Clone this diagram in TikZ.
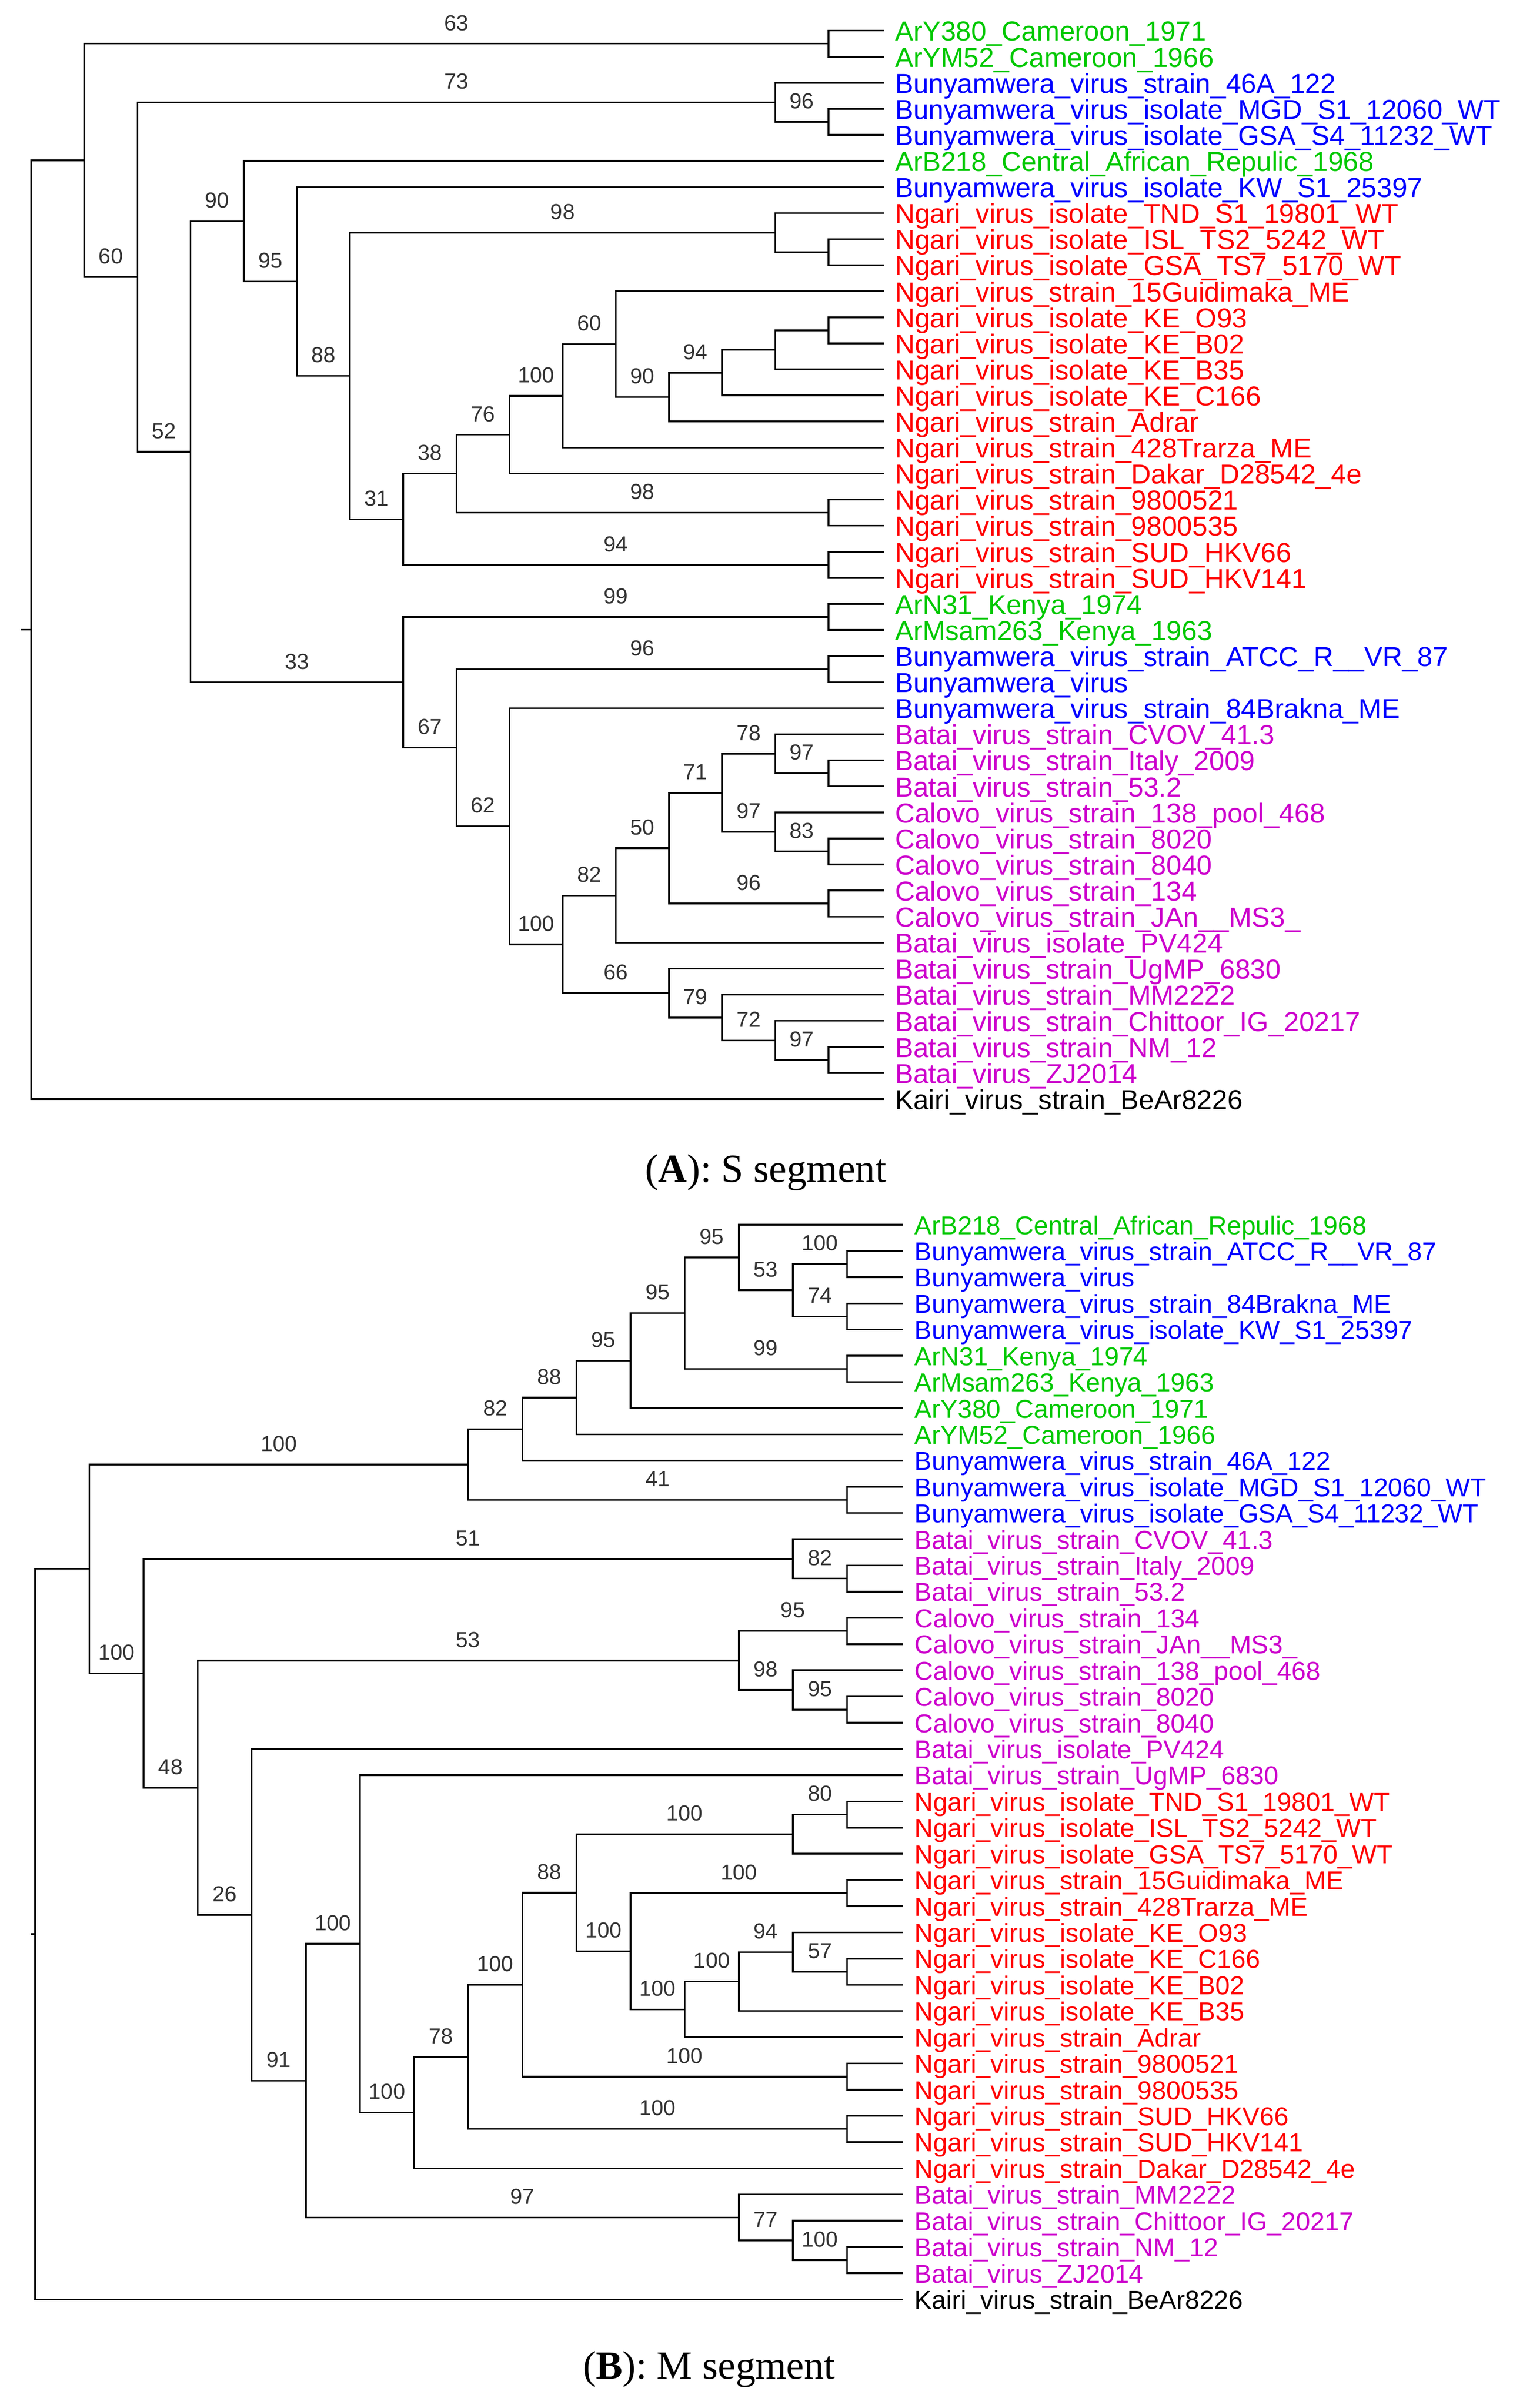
\documentclass[tikz,border=0pt]{standalone}
\usepackage{fontspec}
\setmainfont{Liberation Serif}
\setsansfont{Liberation Sans}
\usetikzlibrary{calc}
\definecolor{grn}{RGB}{0,200,0}
\definecolor{blu}{RGB}{0,0,255}
\definecolor{rd}{RGB}{255,0,0}
\definecolor{mag}{RGB}{204,0,204}
\tikzset{
  branch/.style={line width=1.1pt, line join=miter, line cap=rect},
  bslab/.style={font=\sffamily\fontsize{14.2}{14.2}\selectfont, text=black!80, inner sep=0pt, anchor=base, yshift=8.7pt},
  leafA/.style={font=\sffamily\fontsize{17.9}{17.9}\selectfont, inner sep=0pt, anchor=base west},
  leafB/.style={font=\sffamily\fontsize{16.9}{16.9}\selectfont, inner sep=0pt, anchor=base west},
  capt/.style={font=\fontsize{26}{26}\selectfont, inner sep=0pt, anchor=base}
}
\newcommand\mk[4]{\path let \p1=(#3), \p2=(#4), \p3=(#2) in coordinate (#1) at (\x3,{(\y1+\y2)/2});}
\newcommand\bn[2]{\draw[branch] (#1) |- (#2);}
\newcommand\br[3]{\draw[branch] (#1) |- (#2); \node[bslab] (bs-#2) at ($(#1 |- #2)!0.5!(#2)$) {#3};}
\begin{document}
\begin{tikzpicture}[x=1pt,y=-1pt]
\useasboundingbox (0,0) rectangle (986.9,1571);
% level x positions
\foreach \k in {0,...,15} {
  \coordinate (XA\k) at ({20.3+34.67*\k},0);
  \coordinate (XB\k) at ({23.0+35.3*\k},0);
}
% ---------- Panel A leaves ----------
\foreach \i/\c/\t in {
1/grn/ArY380\_Cameroon\_1971,
2/grn/ArYM52\_Cameroon\_1966,
3/blu/Bunyamwera\_virus\_strain\_46A\_122,
4/blu/Bunyamwera\_virus\_isolate\_MGD\_S1\_12060\_WT,
5/blu/Bunyamwera\_virus\_isolate\_GSA\_S4\_11232\_WT,
6/grn/ArB218\_Central\_African\_Repulic\_1968,
7/blu/Bunyamwera\_virus\_isolate\_KW\_S1\_25397,
8/rd/Ngari\_virus\_isolate\_TND\_S1\_19801\_WT,
9/rd/Ngari\_virus\_isolate\_ISL\_TS2\_5242\_WT,
10/rd/Ngari\_virus\_isolate\_GSA\_TS7\_5170\_WT,
11/rd/Ngari\_virus\_strain\_15Guidimaka\_ME,
12/rd/Ngari\_virus\_isolate\_KE\_O93,
13/rd/Ngari\_virus\_isolate\_KE\_B02,
14/rd/Ngari\_virus\_isolate\_KE\_B35,
15/rd/Ngari\_virus\_isolate\_KE\_C166,
16/rd/Ngari\_virus\_strain\_Adrar,
17/rd/Ngari\_virus\_strain\_428Trarza\_ME,
18/rd/Ngari\_virus\_strain\_Dakar\_D28542\_4e,
19/rd/Ngari\_virus\_strain\_9800521,
20/rd/Ngari\_virus\_strain\_9800535,
21/rd/Ngari\_virus\_strain\_SUD\_HKV66,
22/rd/Ngari\_virus\_strain\_SUD\_HKV141,
23/grn/ArN31\_Kenya\_1974,
24/grn/ArMsam263\_Kenya\_1963,
25/blu/Bunyamwera\_virus\_strain\_ATCC\_R\_\_VR\_87,
26/blu/Bunyamwera\_virus,
27/blu/Bunyamwera\_virus\_strain\_84Brakna\_ME,
28/mag/Batai\_virus\_strain\_CVOV\_41.3,
29/mag/Batai\_virus\_strain\_Italy\_2009,
30/mag/Batai\_virus\_strain\_53.2,
31/mag/Calovo\_virus\_strain\_138\_pool\_468,
32/mag/Calovo\_virus\_strain\_8020,
33/mag/Calovo\_virus\_strain\_8040,
34/mag/Calovo\_virus\_strain\_134,
35/mag/Calovo\_virus\_strain\_JAn\_\_MS3\_,
36/mag/Batai\_virus\_isolate\_PV424,
37/mag/Batai\_virus\_strain\_UgMP\_6830,
38/mag/Batai\_virus\_strain\_MM2222,
39/mag/Batai\_virus\_strain\_Chittoor\_IG\_20217,
40/mag/Batai\_virus\_strain\_NM\_12,
41/mag/Batai\_virus\_ZJ2014,
42/black/Kairi\_virus\_strain\_BeAr8226} {
  \coordinate (A\i) at (576,{20+17*(\i-1)});
  \node[leafA,text=\c] (tA\i) at ([xshift=7.6pt,yshift=-6.7pt]A\i) {\t};
}
% ---------- Panel A internal nodes ----------
\mk{a1}{XA15}{A1}{A2}
\mk{a2}{XA15}{A4}{A5}
\mk{a3}{XA14}{A3}{a2}
\mk{a4}{XA15}{A9}{A10}
\mk{a5}{XA14}{A8}{a4}
\mk{a6}{XA15}{A12}{A13}
\mk{a7}{XA14}{a6}{A14}
\mk{a8}{XA13}{a7}{A15}
\mk{a9}{XA12}{a8}{A16}
\mk{a10}{XA11}{A11}{a9}
\mk{a11}{XA10}{a10}{A17}
\mk{a12}{XA9}{a11}{A18}
\mk{a13}{XA15}{A19}{A20}
\mk{a14}{XA8}{a12}{a13}
\mk{a15}{XA15}{A21}{A22}
\mk{a16}{XA7}{a14}{a15}
\mk{a17}{XA6}{a5}{a16}
\mk{a18}{XA5}{A7}{a17}
\mk{a19}{XA4}{A6}{a18}
\mk{a20}{XA15}{A23}{A24}
\mk{a21}{XA15}{A25}{A26}
\mk{a22}{XA15}{A29}{A30}
\mk{a23}{XA14}{A28}{a22}
\mk{a24}{XA15}{A32}{A33}
\mk{a25}{XA14}{A31}{a24}
\mk{a26}{XA13}{a23}{a25}
\mk{a27}{XA15}{A34}{A35}
\mk{a28}{XA12}{a26}{a27}
\mk{a29}{XA11}{a28}{A36}
\mk{a30}{XA15}{A40}{A41}
\mk{a31}{XA14}{A39}{a30}
\mk{a32}{XA13}{A38}{a31}
\mk{a33}{XA12}{A37}{a32}
\mk{a34}{XA10}{a29}{a33}
\mk{a35}{XA9}{A27}{a34}
\mk{a36}{XA8}{a21}{a35}
\mk{a37}{XA7}{a20}{a36}
\mk{a38}{XA3}{a19}{a37}
\mk{a39}{XA2}{a3}{a38}
\mk{a40}{XA1}{a1}{a39}
\mk{a41}{XA0}{a40}{A42}
% ---------- Panel A branches ----------
\bn{a1}{A1}\bn{a1}{A2}
\bn{a2}{A4}\bn{a2}{A5}
\bn{a3}{A3}\br{a3}{a2}{96}
\bn{a4}{A9}\bn{a4}{A10}
\bn{a5}{A8}\bn{a5}{a4}
\bn{a6}{A12}\bn{a6}{A13}
\bn{a7}{a6}\bn{a7}{A14}
\bn{a8}{a7}\bn{a8}{A15}
\br{a9}{a8}{94}\bn{a9}{A16}
\bn{a10}{A11}\br{a10}{a9}{90}
\br{a11}{a10}{60}\bn{a11}{A17}
\br{a12}{a11}{100}\bn{a12}{A18}
\bn{a13}{A19}\bn{a13}{A20}
\br{a14}{a12}{76}\br{a14}{a13}{98}
\bn{a15}{A21}\bn{a15}{A22}
\br{a16}{a14}{38}\br{a16}{a15}{94}
\br{a17}{a5}{98}\br{a17}{a16}{31}
\bn{a18}{A7}\br{a18}{a17}{88}
\bn{a19}{A6}\br{a19}{a18}{95}
\bn{a20}{A23}\bn{a20}{A24}
\bn{a21}{A25}\bn{a21}{A26}
\bn{a22}{A29}\bn{a22}{A30}
\bn{a23}{A28}\br{a23}{a22}{97}
\bn{a24}{A32}\bn{a24}{A33}
\bn{a25}{A31}\br{a25}{a24}{83}
\br{a26}{a23}{78}\br{a26}{a25}{97}
\bn{a27}{A34}\bn{a27}{A35}
\br{a28}{a26}{71}\br{a28}{a27}{96}
\br{a29}{a28}{50}\bn{a29}{A36}
\bn{a30}{A40}\bn{a30}{A41}
\bn{a31}{A39}\br{a31}{a30}{97}
\bn{a32}{A38}\br{a32}{a31}{72}
\bn{a33}{A37}\br{a33}{a32}{79}
\br{a34}{a29}{82}\br{a34}{a33}{66}
\bn{a35}{A27}\br{a35}{a34}{100}
\br{a36}{a21}{96}\br{a36}{a35}{62}
\br{a37}{a20}{99}\br{a37}{a36}{67}
\br{a38}{a19}{90}\br{a38}{a37}{33}
\br{a39}{a3}{73}\br{a39}{a38}{52}
\br{a40}{a1}{63}\br{a40}{a39}{60}
\bn{a41}{a40}\bn{a41}{A42}
\coordinate (tkA) at ($(a41)+(-6.3,0)$);
\draw[branch] (tkA) -- (a41);
\node[capt] (capA) at (499.5,771.2) {(\textbf{A}): S segment};
% ---------- Panel B leaves ----------
\foreach \i/\c/\t in {
1/grn/ArB218\_Central\_African\_Repulic\_1968,
2/blu/Bunyamwera\_virus\_strain\_ATCC\_R\_\_VR\_87,
3/blu/Bunyamwera\_virus,
4/blu/Bunyamwera\_virus\_strain\_84Brakna\_ME,
5/blu/Bunyamwera\_virus\_isolate\_KW\_S1\_25397,
6/grn/ArN31\_Kenya\_1974,
7/grn/ArMsam263\_Kenya\_1963,
8/grn/ArY380\_Cameroon\_1971,
9/grn/ArYM52\_Cameroon\_1966,
10/blu/Bunyamwera\_virus\_strain\_46A\_122,
11/blu/Bunyamwera\_virus\_isolate\_MGD\_S1\_12060\_WT,
12/blu/Bunyamwera\_virus\_isolate\_GSA\_S4\_11232\_WT,
13/mag/Batai\_virus\_strain\_CVOV\_41.3,
14/mag/Batai\_virus\_strain\_Italy\_2009,
15/mag/Batai\_virus\_strain\_53.2,
16/mag/Calovo\_virus\_strain\_134,
17/mag/Calovo\_virus\_strain\_JAn\_\_MS3\_,
18/mag/Calovo\_virus\_strain\_138\_pool\_468,
19/mag/Calovo\_virus\_strain\_8020,
20/mag/Calovo\_virus\_strain\_8040,
21/mag/Batai\_virus\_isolate\_PV424,
22/mag/Batai\_virus\_strain\_UgMP\_6830,
23/rd/Ngari\_virus\_isolate\_TND\_S1\_19801\_WT,
24/rd/Ngari\_virus\_isolate\_ISL\_TS2\_5242\_WT,
25/rd/Ngari\_virus\_isolate\_GSA\_TS7\_5170\_WT,
26/rd/Ngari\_virus\_strain\_15Guidimaka\_ME,
27/rd/Ngari\_virus\_strain\_428Trarza\_ME,
28/rd/Ngari\_virus\_isolate\_KE\_O93,
29/rd/Ngari\_virus\_isolate\_KE\_C166,
30/rd/Ngari\_virus\_isolate\_KE\_B02,
31/rd/Ngari\_virus\_isolate\_KE\_B35,
32/rd/Ngari\_virus\_strain\_Adrar,
33/rd/Ngari\_virus\_strain\_9800521,
34/rd/Ngari\_virus\_strain\_9800535,
35/rd/Ngari\_virus\_strain\_SUD\_HKV66,
36/rd/Ngari\_virus\_strain\_SUD\_HKV141,
37/rd/Ngari\_virus\_strain\_Dakar\_D28542\_4e,
38/mag/Batai\_virus\_strain\_MM2222,
39/mag/Batai\_virus\_strain\_Chittoor\_IG\_20217,
40/mag/Batai\_virus\_strain\_NM\_12,
41/mag/Batai\_virus\_ZJ2014,
42/black/Kairi\_virus\_strain\_BeAr8226} {
  \coordinate (B\i) at (588.5,{799+17.1*(\i-1)});
  \node[leafB,text=\c] (tB\i) at ([xshift=7.8pt,yshift=-6.3pt]B\i) {\t};
}
% ---------- Panel B internal nodes ----------
\mk{b1}{XB15}{B2}{B3}
\mk{b2}{XB15}{B4}{B5}
\mk{b3}{XB14}{b1}{b2}
\mk{b4}{XB13}{B1}{b3}
\mk{b5}{XB15}{B6}{B7}
\mk{b6}{XB12}{b4}{b5}
\mk{b7}{XB11}{b6}{B8}
\mk{b8}{XB10}{b7}{B9}
\mk{b9}{XB9}{b8}{B10}
\mk{b10}{XB15}{B11}{B12}
\mk{b11}{XB8}{b9}{b10}
\mk{b12}{XB15}{B14}{B15}
\mk{b13}{XB14}{B13}{b12}
\mk{b14}{XB15}{B16}{B17}
\mk{b15}{XB15}{B19}{B20}
\mk{b16}{XB14}{B18}{b15}
\mk{b17}{XB13}{b14}{b16}
\mk{b18}{XB15}{B23}{B24}
\mk{b19}{XB14}{b18}{B25}
\mk{b20}{XB15}{B26}{B27}
\mk{b21}{XB15}{B29}{B30}
\mk{b22}{XB14}{B28}{b21}
\mk{b23}{XB13}{b22}{B31}
\mk{b24}{XB12}{b23}{B32}
\mk{b25}{XB11}{b20}{b24}
\mk{b26}{XB10}{b19}{b25}
\mk{b27}{XB15}{B33}{B34}
\mk{b28}{XB9}{b26}{b27}
\mk{b29}{XB15}{B35}{B36}
\mk{b30}{XB8}{b28}{b29}
\mk{b31}{XB7}{b30}{B37}
\mk{b32}{XB6}{B22}{b31}
\mk{b33}{XB15}{B40}{B41}
\mk{b34}{XB14}{B39}{b33}
\mk{b35}{XB13}{B38}{b34}
\mk{b36}{XB5}{b32}{b35}
\mk{b37}{XB4}{B21}{b36}
\mk{b38}{XB3}{b17}{b37}
\mk{b39}{XB2}{b13}{b38}
\mk{b40}{XB1}{b11}{b39}
\mk{b41}{XB0}{b40}{B42}
% ---------- Panel B branches ----------
\bn{b1}{B2}\bn{b1}{B3}
\bn{b2}{B4}\bn{b2}{B5}
\br{b3}{b1}{100}\br{b3}{b2}{74}
\bn{b4}{B1}\br{b4}{b3}{53}
\bn{b5}{B6}\bn{b5}{B7}
\br{b6}{b4}{95}\br{b6}{b5}{99}
\br{b7}{b6}{95}\bn{b7}{B8}
\br{b8}{b7}{95}\bn{b8}{B9}
\br{b9}{b8}{88}\bn{b9}{B10}
\bn{b10}{B11}\bn{b10}{B12}
\br{b11}{b9}{82}\br{b11}{b10}{41}
\bn{b12}{B14}\bn{b12}{B15}
\bn{b13}{B13}\br{b13}{b12}{82}
\bn{b14}{B16}\bn{b14}{B17}
\bn{b15}{B19}\bn{b15}{B20}
\bn{b16}{B18}\br{b16}{b15}{95}
\br{b17}{b14}{95}\br{b17}{b16}{98}
\bn{b18}{B23}\bn{b18}{B24}
\br{b19}{b18}{80}\bn{b19}{B25}
\bn{b20}{B26}\bn{b20}{B27}
\bn{b21}{B29}\bn{b21}{B30}
\bn{b22}{B28}\br{b22}{b21}{57}
\br{b23}{b22}{94}\bn{b23}{B31}
\br{b24}{b23}{100}\bn{b24}{B32}
\br{b25}{b20}{100}\br{b25}{b24}{100}
\br{b26}{b19}{100}\br{b26}{b25}{100}
\bn{b27}{B33}\bn{b27}{B34}
\br{b28}{b26}{88}\br{b28}{b27}{100}
\bn{b29}{B35}\bn{b29}{B36}
\br{b30}{b28}{100}\br{b30}{b29}{100}
\br{b31}{b30}{78}\bn{b31}{B37}
\bn{b32}{B22}\br{b32}{b31}{100}
\bn{b33}{B40}\bn{b33}{B41}
\bn{b34}{B39}\br{b34}{b33}{100}
\bn{b35}{B38}\br{b35}{b34}{77}
\br{b36}{b32}{100}\br{b36}{b35}{97}
\bn{b37}{B21}\br{b37}{b36}{91}
\br{b38}{b17}{53}\br{b38}{b37}{26}
\br{b39}{b13}{51}\br{b39}{b38}{48}
\br{b40}{b11}{100}\br{b40}{b39}{100}
\bn{b41}{b40}\bn{b41}{B42}
\coordinate (tkB) at ($(b41)+(-2.3,0)$);
\draw[branch] (tkB) -- (b41);
\node[capt] (capB) at (462.5,1552) {(\textbf{B}): M segment};
\end{tikzpicture}
\end{document}
